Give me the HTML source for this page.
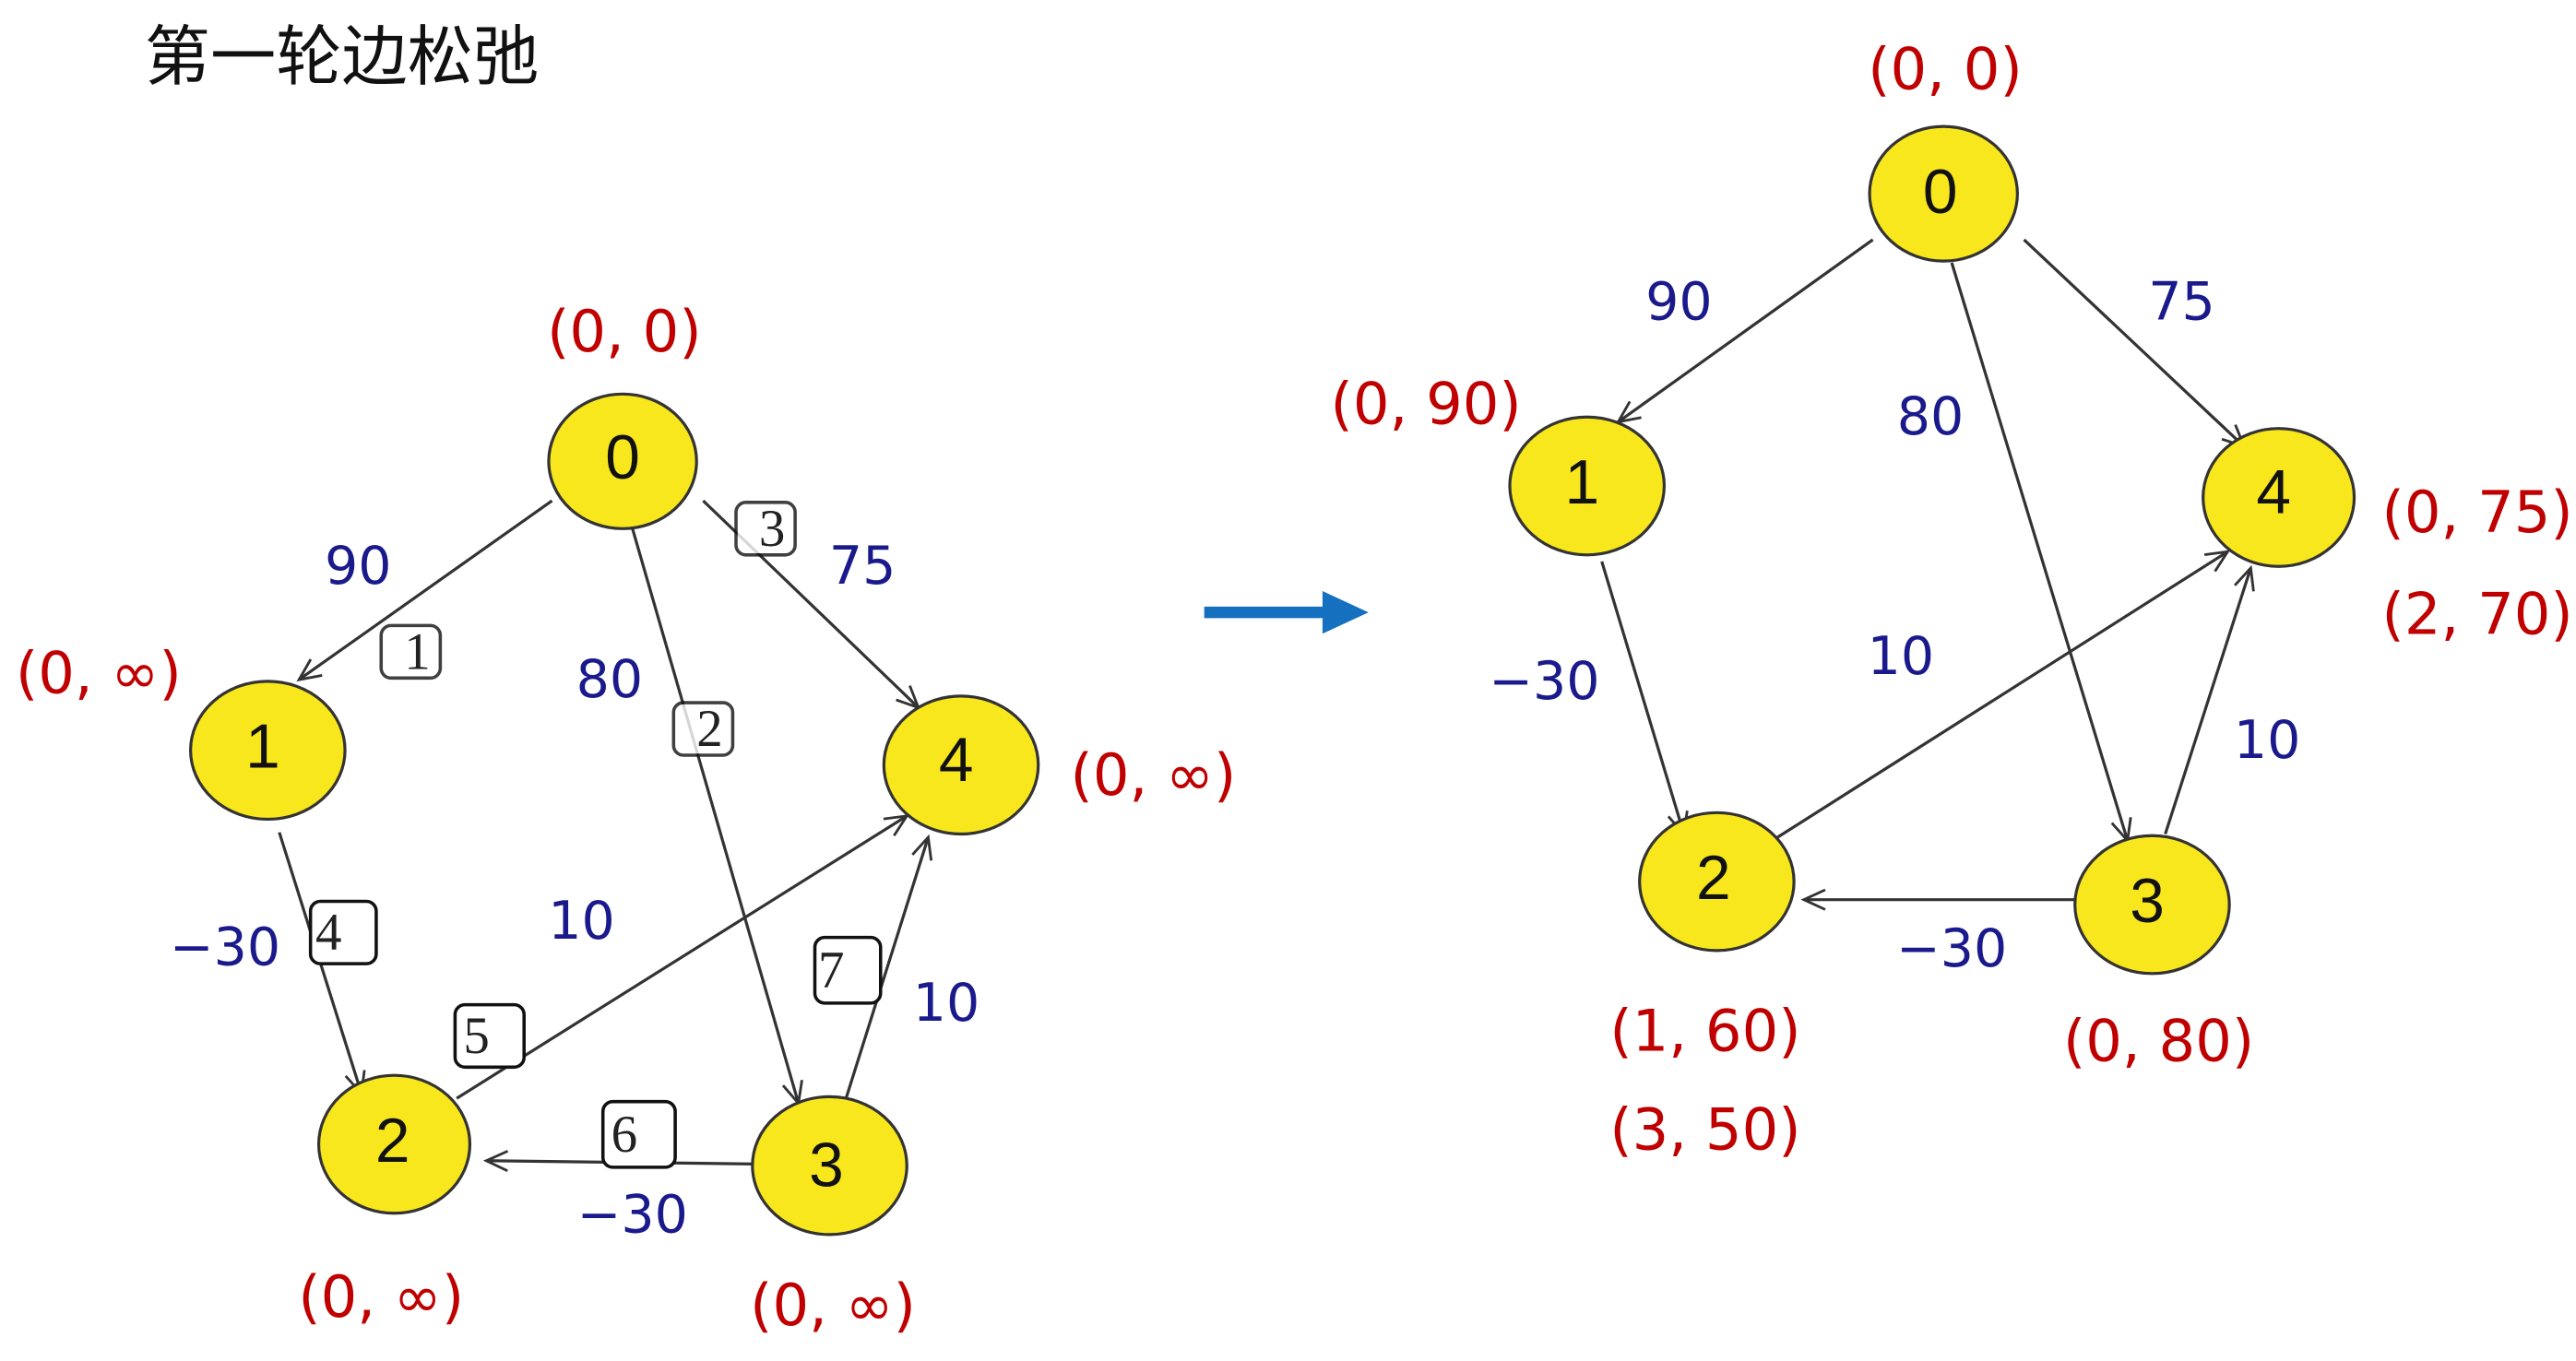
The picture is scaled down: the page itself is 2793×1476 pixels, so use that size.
<!DOCTYPE html>
<html><head><meta charset="utf-8"><style>
html,body{margin:0;padding:0;background:#fff;}
svg{display:block}
.n{fill:#f8e71c;stroke:#333;stroke-width:1.8}
.e{stroke:#333;stroke-width:1.8;fill:none;marker-end:url(#a)}
.d{font-family:"Liberation Sans",sans-serif;font-size:38px;fill:#111;text-anchor:middle;dominant-baseline:central}
.r{font-family:"DejaVu Sans",sans-serif;font-size:35px;fill:#c00000;text-anchor:middle;dominant-baseline:central}
.b{font-family:"DejaVu Sans",sans-serif;font-size:32px;fill:#1a1a8c;text-anchor:middle;dominant-baseline:central}
.bx{fill:#fff;stroke:#111;stroke-width:2}
.bt{font-family:"Liberation Serif",serif;font-size:32px;fill:#222;text-anchor:middle;dominant-baseline:central}
</style></head><body>
<svg width="2793" height="1476" viewBox="0 0 1568 829" preserveAspectRatio="none" xmlns="http://www.w3.org/2000/svg">
<defs><marker id="a" markerWidth="16" markerHeight="16" refX="14" refY="8" orient="auto" markerUnits="userSpaceOnUse"><path d="M1,2 L14,8 L1,14" fill="none" stroke="#333" stroke-width="1.6"/></marker></defs>
<text x="88" y="35" font-family="Liberation Sans,'Noto Sans CJK SC',sans-serif" font-size="40" fill="#111" dominant-baseline="central">第一轮边松弛</text>
<line class="e" x1="336" y1="305" x2="182" y2="414"/>
<line class="e" x1="385" y1="322" x2="486" y2="672"/>
<line class="e" x1="428" y1="305" x2="559" y2="431"/>
<line class="e" x1="170" y1="507" x2="220" y2="666"/>
<line class="e" x1="278" y1="669" x2="552" y2="497"/>
<line class="e" x1="515" y1="669" x2="565" y2="510"/>
<line class="e" x1="460" y1="709" x2="296" y2="707"/>
<ellipse class="n" cx="379" cy="281" rx="45" ry="41"/>
<ellipse class="n" cx="163" cy="457" rx="47" ry="42"/>
<ellipse class="n" cx="240" cy="697" rx="46" ry="42"/>
<ellipse class="n" cx="505" cy="710" rx="47" ry="42"/>
<ellipse class="n" cx="585" cy="466" rx="47" ry="42"/>
<text class="d" x="379" y="279">0</text><text class="d" x="160" y="455">1</text><text class="d" x="239" y="695">2</text><text class="d" x="503" y="710">3</text><text class="d" x="582" y="463">4</text>
<rect class="bx" x="232" y="381" width="36" height="32" rx="6" opacity=".8"/><text class="bt" x="254" y="397">1</text>
<rect class="bx" x="410" y="428" width="36" height="32" rx="6" opacity=".8"/><text class="bt" x="432" y="444">2</text>
<rect class="bx" x="448" y="306" width="36" height="32" rx="6" opacity=".8"/><text class="bt" x="470" y="322">3</text>
<rect class="bx" x="189" y="549" width="40" height="38" rx="6"/><text class="bt" x="200" y="568">4</text>
<rect class="bx" x="277" y="612" width="42" height="38" rx="6"/><text class="bt" x="290" y="631">5</text>
<rect class="bx" x="367" y="671" width="44" height="40" rx="6"/><text class="bt" x="380" y="691">6</text>
<rect class="bx" x="496" y="571" width="40" height="40" rx="6"/><text class="bt" x="506" y="591">7</text>
<text class="r" x="380" y="202">(0, 0)</text>
<text class="r" x="60" y="410">(0, ∞)</text>
<text class="r" x="702" y="472">(0, ∞)</text>
<text class="r" x="232" y="790">(0, ∞)</text>
<text class="r" x="507" y="795">(0, ∞)</text>
<text class="b" x="218" y="345">90</text><text class="b" x="525" y="345">75</text><text class="b" x="371" y="414">80</text>
<text class="b" x="137" y="577">−30</text><text class="b" x="354" y="561">10</text><text class="b" x="576" y="611">10</text><text class="b" x="385" y="740">−30</text>
<line x1="733" y1="373" x2="808" y2="373" stroke="#1670c0" stroke-width="7"/>
<polygon points="805,360 833,373 805,386" fill="#1670c0"/>
<line class="e" x1="1140" y1="146" x2="985" y2="257"/>
<line class="e" x1="1188" y1="160" x2="1295" y2="512"/>
<line class="e" x1="1232" y1="146" x2="1366" y2="272"/>
<line class="e" x1="975" y1="342" x2="1025" y2="508"/>
<line class="e" x1="1082" y1="510" x2="1356" y2="336"/>
<line class="e" x1="1318" y1="508" x2="1370" y2="346"/>
<line class="e" x1="1265" y1="548" x2="1098" y2="548"/>
<ellipse class="n" cx="1183" cy="118" rx="45" ry="41"/>
<ellipse class="n" cx="966" cy="296" rx="47" ry="42"/>
<ellipse class="n" cx="1045" cy="537" rx="47" ry="42"/>
<ellipse class="n" cx="1310" cy="551" rx="47" ry="42"/>
<ellipse class="n" cx="1387" cy="303" rx="46" ry="42"/>
<text class="d" x="1181" y="117">0</text><text class="d" x="963" y="294">1</text><text class="d" x="1043" y="535">2</text><text class="d" x="1307" y="549">3</text><text class="d" x="1384" y="300">4</text>
<text class="r" x="1184" y="42">(0, 0)</text>
<text class="r" x="868" y="246">(0, 90)</text>
<text class="r" x="1508" y="312">(0, 75)</text>
<text class="r" x="1508" y="374">(2, 70)</text>
<text class="r" x="1038" y="628">(1, 60)</text>
<text class="r" x="1038" y="688">(3, 50)</text>
<text class="r" x="1314" y="634">(0, 80)</text>
<text class="b" x="1022" y="184">90</text><text class="b" x="1328" y="184">75</text><text class="b" x="1175" y="254">80</text>
<text class="b" x="940" y="415">−30</text><text class="b" x="1157" y="400">10</text><text class="b" x="1380" y="451">10</text><text class="b" x="1188" y="578">−30</text>
</svg>
</body></html>
